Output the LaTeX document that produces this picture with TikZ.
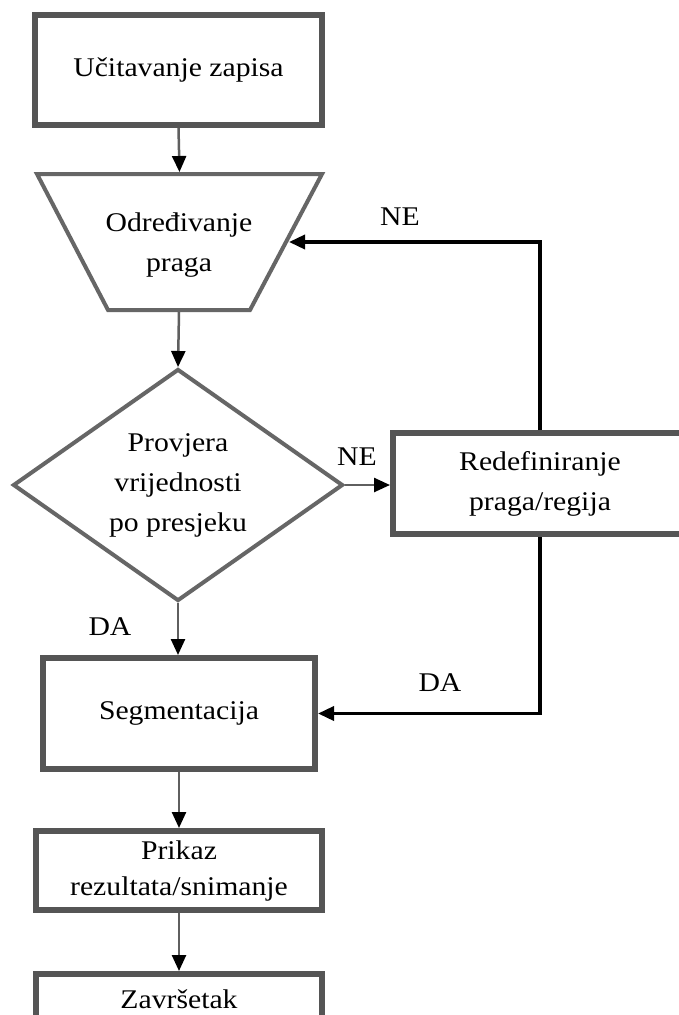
\documentclass[tikz,border=0pt]{standalone}
\usepackage{fontspec}
\setmainfont{Liberation Serif}[FakeStretch=1.1]
\usetikzlibrary{shapes.geometric,arrows.meta}
\definecolor{boxgray}{HTML}{555555}
\definecolor{shapegray}{HTML}{666666}
\definecolor{linegray}{HTML}{5f5f5f}
\begin{document}
\begin{tikzpicture}[x=1pt,y=-1pt,
  every node/.style={font=\fontsize{27}{40}\selectfont, text=black},
  box/.style={draw=boxgray, line width=6pt, rectangle, align=center, inner sep=0pt},
  decision/.style={draw=shapegray, line width=4pt, diamond, aspect=1.42, inner sep=0pt,
    minimum width=330pt, minimum height=232pt, align=center},
  shapeline/.style={draw=shapegray, line width=4pt, line join=miter},
  flow/.style={draw=linegray, line width=2.5pt, -{Triangle[length=16pt,width=14pt,color=black,fill=black]}},
  back/.style={draw=black, line width=3.5pt, line join=miter, -{Triangle[length=16pt,width=14pt]}},
  lbl/.style={inner sep=0pt}
]
\useasboundingbox (0,0) rectangle (679,1015);
\clip (0,0) rectangle (679,1015);
\fill[white] (0,0) rectangle (679,1015);

% nodes
\node[box, minimum width=287pt, minimum height=110pt] (load) at (178.5,70) {Učitavanje zapisa};

\draw[shapeline] (37,174) -- (322,174) -- (250,310) -- (108,310) -- cycle;
\node[align=center] (thr) at (179,245) {Određivanje\\praga};
\coordinate (thrT) at (179.5,172);
\coordinate (thrB) at (179,312);
\coordinate (thrR) at (289,242);

\node[decision] (chk) at (178,485) {Provjera\\vrijednosti\\po presjeku};
\node[box, minimum width=294pt, minimum height=101pt] (redef) at (540,483.5) {Redefiniranje\\praga/regija};
\node[box, minimum width=272pt, minimum height=111pt] (seg) at (179,713.5) {Segmentacija};
\node[box, minimum width=286pt, minimum height=79pt, font=\fontsize{27}{36}\selectfont] (show) at (179,870.5) {Prikaz\\rezultata/snimanje};
\node[box, minimum width=286pt, minimum height=50pt] (end) at (179,999) {Završetak};

% connectors
\draw[flow] (load.south) -- (thrT);
\draw[flow] (thrB) -- (chk.north);
\draw[flow] (chk.east) -- (chk.east -| redef.west);
\draw[flow] (chk.south) -- (chk.south |- seg.north);
\draw[flow] (seg.south) -- (show.north);
\draw[flow] (show.south) -- (end.north);
\draw[back] (redef.north) |- (thrR);
\draw[back] (redef.south) |- (seg.east);

% labels
\node[lbl] (ne1) at (400,217) {NE};
\node[lbl] (ne2) at (357,457) {NE};
\node[lbl] (da1) at (110,627) {DA};
\node[lbl] (da2) at (440,683) {DA};
\end{tikzpicture}
\end{document}
